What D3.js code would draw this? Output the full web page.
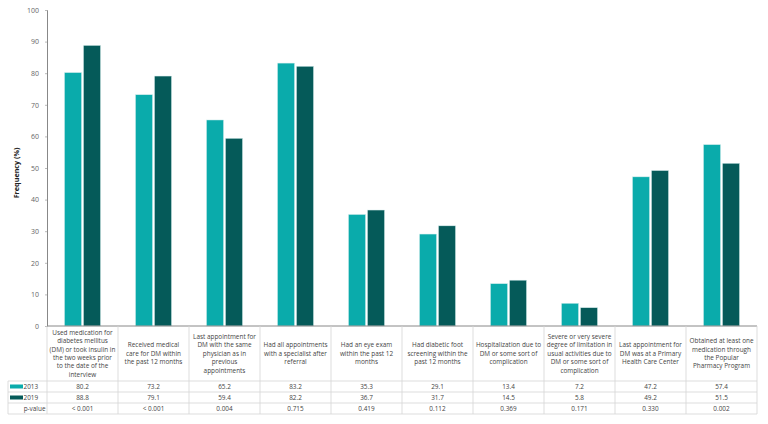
<!DOCTYPE html>
<html><head><meta charset="utf-8">
<script src="https://cdn.jsdelivr.net/npm/d3@7"></script>
<style>body{margin:0;background:#fff}svg{display:block}text{font-family:"Open Sans",sans-serif}</style>
</head><body>
<svg id="c" width="768" height="424"></svg>
<script>
const categories = [
  "Used medication for\ndiabetes mellitus\n(DM) or took insulin in\nthe two weeks prior\nto the date of the\ninterview",
  "Received medical\ncare for DM within\nthe past 12 months",
  "Last appointment for\nDM with the same\nphysician as in\nprevious\nappointments",
  "Had all appointments\nwith a specialist after\nreferral",
  "Had an eye exam\nwithin the past 12\nmonths",
  "Had diabetic foot\nscreening within the\npast 12 months",
  "Hospitalization due to\nDM or some sort of\ncomplication",
  "Severe or very severe\ndegree of limitation in\nusual activities due to\nDM or some sort of\ncomplication",
  "Last appointment for\nDM was at a Primary\nHealth Care Center",
  "Obtained at least one\nmedication through\nthe Popular\nPharmacy Program"
];
const years = ["2013", "2019"];
const values2013 = [80.2, 73.2, 65.2, 83.2, 35.3, 29.1, 13.4, 7.2, 47.2, 57.4];
const values2019 = [88.8, 79.1, 59.4, 82.2, 36.7, 31.7, 14.5, 5.8, 49.2, 51.5];
const pValues = ["< 0.001", "< 0.001", "0.004", "0.715", "0.419", "0.112", "0.369", "0.171", "0.330", "0.002"];
const yTicks = [0, 10, 20, 30, 40, 50, 60, 70, 80, 90, 100];
const colors = ["#0aabab", "#055a59"];

const svg = d3.select("#c");
const L = 47, R = 757, T = 10, B = 326;
const tableLeft = 8;
const rowTop = 381, rowH = 11;
const series = [values2013, values2019];

const x0 = d3.scaleBand().domain(d3.range(categories.length)).range([L, R]).padding(0);
const x1 = d3.scaleBand().domain(years).range([0, x0.bandwidth()]).paddingInner(0.1).paddingOuter(0.92);
const y = d3.scaleLinear().domain([0, 100]).range([B, T]);

// bars
const g = svg.append("g");
categories.forEach((c, i) => {
  years.forEach((yr, j) => {
    g.append("rect")
      .attr("x", x0(i) + x1(yr))
      .attr("y", y(series[j][i]))
      .attr("width", x1.bandwidth())
      .attr("height", y(0) - y(series[j][i]))
      .attr("fill", colors[j])
      .attr("stroke", "#d8eeee").attr("stroke-width", 0.5);
  });
});

// y axis
const yAxis = d3.axisLeft(y).tickValues(yTicks).tickSize(2).tickPadding(6);
const ya = svg.append("g").attr("transform", `translate(${L},0)`).call(yAxis);
ya.select(".domain").attr("stroke", "#888").attr("stroke-width", 1);
ya.selectAll(".tick line").attr("stroke", "#bbb");
ya.selectAll(".tick text").attr("fill", "#666").style("font-size", "7px").style("font-family", '"Open Sans",sans-serif');

svg.append("text")
  .attr("transform", `translate(19,${(T + B) / 2 + 5}) rotate(-90)`)
  .attr("text-anchor", "middle")
  .style("font-size", "7.2px").style("font-weight", "bold").attr("fill", "#222")
  .text("Frequency (%)");

// x axis baseline
svg.append("line").attr("x1", L).attr("x2", R).attr("y1", B).attr("y2", B)
  .attr("stroke", "#888").attr("stroke-width", 1);

// table grid
const grid = svg.append("g").attr("stroke", "#d4d4d4").attr("stroke-width", 0.8);
const tableBottom = rowTop + rowH * 3;
for (let k = 0; k < 4; k++) {
  grid.append("line").attr("x1", tableLeft).attr("x2", R)
    .attr("y1", rowTop + k * rowH).attr("y2", rowTop + k * rowH);
}
grid.append("line").attr("x1", tableLeft).attr("x2", tableLeft).attr("y1", rowTop).attr("y2", tableBottom);
d3.range(categories.length + 1).forEach(i => {
  const xx = i < categories.length ? x0(i) : R;
  grid.append("line").attr("x1", xx).attr("x2", xx).attr("y1", B).attr("y2", tableBottom);
});

// category headers
const lh = 8.4;
categories.forEach((c, i) => {
  const lines = c.split("\n");
  const cx = x0(i) + x0.bandwidth() / 2;
  const midY = (B + rowTop) / 2;
  const startY = midY - (lines.length - 1) * lh / 2 + 2.3;
  const t = svg.append("text").attr("text-anchor", "middle").attr("fill", "#444").style("font-size", "6.4px");
  lines.forEach((ln, k) => {
    t.append("tspan").attr("x", cx).attr("y", startY + k * lh).text(ln);
  });
});

// rows
const rows = [values2013.map(v => v.toFixed(1)), values2019.map(v => v.toFixed(1)), pValues];
rows.forEach((r, k) => {
  const cy = rowTop + k * rowH + rowH / 2 + 2.3;
  r.forEach((v, i) => {
    svg.append("text").attr("x", x0(i) + x0.bandwidth() / 2).attr("y", cy)
      .attr("text-anchor", "middle").attr("fill", "#444").style("font-size", "6.4px").text(v);
  });
});

// legend cells
years.forEach((yr, j) => {
  const cy = rowTop + j * rowH + rowH / 2;
  svg.append("rect").attr("x", 10).attr("y", cy - 2).attr("width", 13).attr("height", 4).attr("fill", colors[j]);
  svg.append("text").attr("x", 23.5).attr("y", cy + 2.3).attr("fill", "#444").style("font-size", "6.4px").text(yr);
});
svg.append("text").attr("x", 45.5).attr("y", rowTop + 2 * rowH + rowH / 2 + 2.3)
  .attr("text-anchor", "end").attr("fill", "#444").style("font-size", "6.4px").text("p-value");
</script>
</body></html>
